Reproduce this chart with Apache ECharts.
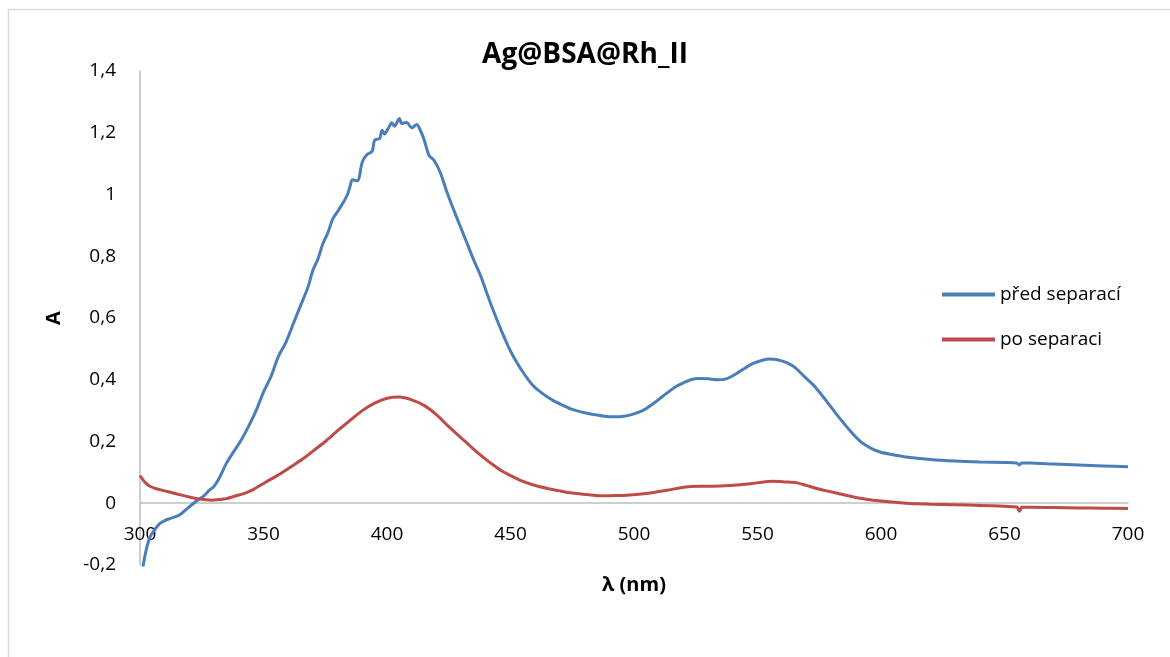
<!DOCTYPE html>
<html>
<head>
<meta charset="utf-8">
<script src="https://cdn.jsdelivr.net/npm/echarts@6/dist/echarts.min.js"></script>
<style>
  html, body { margin: 0; padding: 0; background: #fff; }
  #chart { width: 1170px; height: 657px; }
</style>
</head>
<body>
<div id="chart"></div>
<script>
// spektra
var blueWl = [300, 302, 304, 306, 308, 310, 312, 316, 319, 323, 326, 328, 330, 332, 335, 338, 341, 344, 347, 350,
  353, 356, 359, 362, 365, 368, 370, 372, 374, 376, 378, 380, 382, 384, 385, 386, 388, 390, 392, 394,
  395, 397, 398, 399, 400.5, 402, 403, 405, 406, 408, 410, 412, 413.5, 415, 417, 419, 421.5, 424, 426, 428,
  430, 432, 435, 438, 440, 443, 446, 449, 451, 455, 459, 463, 467, 471, 475, 480, 484, 488, 492, 496,
  499, 502, 505, 509, 513, 517, 520, 523, 526, 530, 534, 537, 540, 544, 548, 552, 555, 558, 562, 565,
  569, 573, 578, 583, 588, 592, 596, 600, 605, 610, 620, 630, 640, 650, 655, 656, 657, 660, 670, 680,
  690, 700];
var blueA = [-0.27, -0.17, -0.11, -0.085, -0.066, -0.056, -0.05, -0.038, -0.018, 0.008, 0.025, 0.042, 0.055, 0.08, 0.13, 0.168, 0.205, 0.25, 0.3, 0.36,
  0.41, 0.475, 0.52, 0.58, 0.64, 0.7, 0.755, 0.79, 0.84, 0.875, 0.92, 0.945, 0.97, 1.0, 1.025, 1.048, 1.044, 1.105, 1.13, 1.14,
  1.176, 1.181, 1.208, 1.196, 1.214, 1.232, 1.221, 1.246, 1.23, 1.233, 1.216, 1.227, 1.208, 1.178, 1.127, 1.111, 1.073, 1.014, 0.971, 0.93,
  0.89, 0.85, 0.79, 0.735, 0.69, 0.625, 0.565, 0.51, 0.478, 0.425, 0.382, 0.355, 0.334, 0.318, 0.304, 0.293, 0.287, 0.282, 0.28, 0.282,
  0.287, 0.295, 0.307, 0.33, 0.355, 0.378, 0.39, 0.4, 0.404, 0.403, 0.4, 0.402, 0.413, 0.433, 0.452, 0.463, 0.467, 0.465, 0.455, 0.441,
  0.41, 0.38, 0.33, 0.278, 0.23, 0.198, 0.178, 0.165, 0.157, 0.15, 0.142, 0.137, 0.134, 0.132, 0.13, 0.124, 0.13, 0.13, 0.127, 0.124,
  0.121, 0.118];

var redWl = [300, 302, 304, 307, 310, 313, 316, 320, 323, 326, 329, 332, 335, 338, 342, 346, 351, 355, 359, 363,
  367, 371, 375, 380, 385, 390, 395, 400, 405, 410, 415, 420, 425, 430, 434, 438, 442, 446, 450, 454,
  459, 465, 470, 475, 481, 486, 492, 497, 502, 508, 514, 521, 528, 535, 543, 550, 556, 561, 566, 570,
  574, 578, 583, 588, 594, 600, 610, 620, 630, 640, 650, 655, 656, 657, 660, 670, 680, 690, 700];
var redA = [0.09, 0.068, 0.055, 0.046, 0.04, 0.034, 0.028, 0.02, 0.015, 0.012, 0.01, 0.012, 0.015, 0.022, 0.031, 0.045, 0.069, 0.087, 0.107, 0.128,
  0.15, 0.175, 0.2, 0.235, 0.268, 0.3, 0.324, 0.34, 0.344, 0.335, 0.317, 0.287, 0.248, 0.212, 0.183, 0.155, 0.13, 0.107, 0.09, 0.074,
  0.06, 0.048, 0.04, 0.033, 0.028, 0.024, 0.025, 0.026, 0.029, 0.035, 0.043, 0.053, 0.055, 0.056, 0.06, 0.066, 0.071, 0.069, 0.066, 0.057,
  0.048, 0.04, 0.031, 0.022, 0.013, 0.007, 0.0, -0.003, -0.005, -0.007, -0.01, -0.012, -0.026, -0.013, -0.013, -0.014, -0.015, -0.016, -0.017];

var seriesNames = ["před separací", "po separaci"];
var xTicks = [300, 700, 50];      // min, max, interval
var yTicks = [-0.2, 1.4, 0.2];

function pairs(xs, ys) {
  return xs.map(function (x, i) { return [x, ys[i]]; });
}

var font = "Open Sans";
var chart = echarts.init(document.getElementById("chart"));
var option = {
  animation: false,
  backgroundColor: "#fff",
  textStyle: { fontFamily: font, color: "#000" },
  title: {
    text: "Ag@BSA@Rh_II",
    left: "center",
    top: 36,
    textStyle: { fontFamily: font, fontSize: 28, fontWeight: "bold", color: "#000" }
  },
  graphic: [{
    type: "rect",
    shape: { x: 8.5, y: 9.5, width: 1200, height: 700 },
    style: { fill: "none", stroke: "#d9d9d9", lineWidth: 1.5 },
    silent: true
  }],
  legend: {
    orient: "vertical",
    left: 937,
    top: 280,
    icon: "rect",
    itemWidth: 53,
    itemHeight: 4,
    itemGap: 26,
    data: seriesNames,
    textStyle: { fontFamily: font, fontSize: 19, color: "#000" }
  },
  grid: { left: 140, right: 42, top: 71, bottom: 92, outerBoundsMode: "none", containLabel: false },
  xAxis: {
    type: "value",
    min: xTicks[0],
    max: xTicks[1],
    interval: xTicks[2],
    // osa posunutá nahoru na úroveň nuly
    offset: -62,
    name: "λ (nm)",
    nameLocation: "middle",
    nameGap: 72,
    nameTextStyle: { fontFamily: font, fontSize: 20, fontWeight: "bold", color: "#000" },
    axisLine: { onZero: false, lineStyle: { color: "#bfbfbf", width: 1.5 } },
    axisTick: { show: false },
    splitLine: { show: false },
    axisLabel: { margin: 22, fontSize: 19, color: "#000", fontFamily: font }
  },
  yAxis: {
    type: "value",
    min: yTicks[0],
    max: yTicks[1],
    interval: yTicks[2],
    name: "A",
    nameLocation: "middle",
    nameGap: 76,
    nameRotate: 90,
    nameTextStyle: { fontFamily: font, fontSize: 20, fontWeight: "bold", color: "#000" },
    axisLine: { show: true, onZero: false, lineStyle: { color: "#bfbfbf", width: 1.5 } },
    axisTick: { show: false },
    splitLine: { show: false },
    axisLabel: {
      margin: 24,
      fontSize: 19,
      color: "#000",
      fontFamily: font,
      formatter: function (v) { return String(Math.round(v * 10) / 10).replace(".", ","); }
    }
  },
  series: [
    {
      name: seriesNames[0],
      type: "line",
      data: pairs(blueWl, blueA),
      showSymbol: false,
      smooth: 0.3,
      clip: true,
      lineStyle: { color: "#4a7ebb", width: 3 },
      itemStyle: { color: "#4a7ebb" }
    },
    {
      name: seriesNames[1],
      type: "line",
      data: pairs(redWl, redA),
      showSymbol: false,
      smooth: 0.3,
      clip: true,
      lineStyle: { color: "#be4b48", width: 3 },
      itemStyle: { color: "#be4b48" }
    }
  ]
};
chart.setOption(option);
</script>
</body>
</html>
